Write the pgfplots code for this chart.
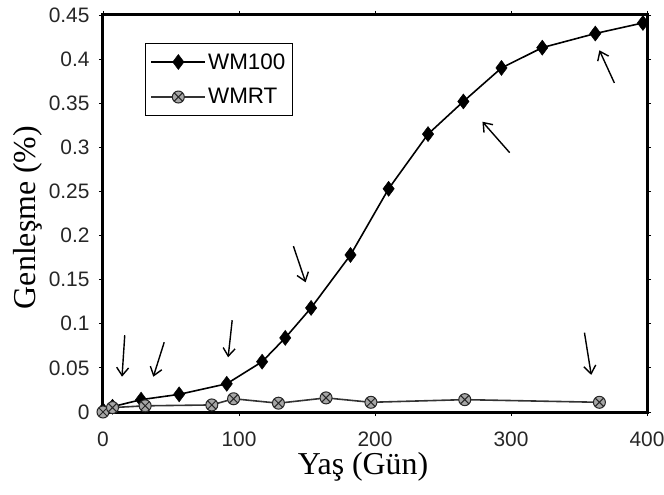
\documentclass[border=0pt]{standalone}
\usepackage{pgfplots}
\pgfplotsset{compat=1.18}
\usetikzlibrary{arrows.meta}
\usepackage{fontspec}
\setmainfont{Liberation Serif}
\setsansfont{Liberation Sans}
\begin{document}
\begin{tikzpicture}
\begin{axis}[
  name=ax,
  scale only axis, width=544bp, height=397bp,
  xmin=0, xmax=400, ymin=0, ymax=0.45,
  xtick={0,100,200,300,400}, ytick={0,0.05,...,0.45},
  yticklabels={0,0.05,0.1,0.15,0.2,0.25,0.3,0.35,0.4,0.45},
  tick align=outside, major tick length=4bp,
  axis line style={line width=3bp},
  tick style={black, line width=0.8bp},
  ticklabel style={font=\sffamily\fontsize{21}{21}\selectfont, text=black!85},
  xticklabel style={yshift=-12bp},
  yticklabel style={xshift=-6bp},
  /pgf/number format/assume math mode=true,
  xlabel={Yaş (Gün)}, ylabel={Genleşme (\%)},
  label style={font=\fontsize{32}{32}\selectfont},
  xlabel style={at={(axis description cs:0.478,-0.1)}, anchor=north, inner sep=0pt},
  ylabel style={at={(axis description cs:-0.138,0.49)}, anchor=center},
  legend style={at={(axis description cs:0.077,0.93)}, anchor=north west,
    draw=black, line width=1.3bp, font=\sffamily\fontsize{22.5}{22.5}\selectfont,
    inner xsep=5bp, inner ysep=8bp, row sep=14bp},
  legend cell align=left,
  legend image code/.code={\draw[mark repeat=2,mark phase=2] plot coordinates {(0bp,0bp) (27bp,0bp) (54bp,0bp)};},
]
\addplot[black, line width=1.6bp, mark=diamond*, mark size=7.5bp, mark options={fill=black, line width=0.5bp}]
  coordinates {(0,0.002) (7,0.006) (28,0.014) (56,0.020) (91,0.032) (117,0.057) (134,0.084) (153,0.118) (182,0.178) (210,0.253) (239,0.315) (265,0.352) (293,0.390) (323,0.413) (362,0.429) (397,0.441)};
\addlegendentry{WM100}
\addplot[black!80, line width=1.6bp, mark=otimes*, mark size=6bp, mark options={fill=black!35, draw=black!85, line width=1bp}]
  coordinates {(0,0) (7,0.005) (31,0.007) (80,0.008) (96,0.015) (129,0.010) (164,0.016) (197,0.011) (266,0.014) (365,0.011)};
\addlegendentry{WMRT}
\draw[line width=1.4bp, -{Straight Barb[length=8bp,width=12bp]}] (axis cs:16,0.087) -- (axis cs:14,0.040);
\draw[line width=1.4bp, -{Straight Barb[length=8bp,width=12bp]}] (axis cs:45,0.079) -- (axis cs:37,0.040);
\draw[line width=1.4bp, -{Straight Barb[length=8bp,width=12bp]}] (axis cs:95,0.104) -- (axis cs:92,0.062);
\draw[line width=1.4bp, -{Straight Barb[length=8bp,width=12bp]}] (axis cs:140,0.188) -- (axis cs:149,0.147);
\draw[line width=1.4bp, -{Straight Barb[length=8bp,width=12bp]}] (axis cs:299,0.294) -- (axis cs:279,0.329);
\draw[line width=1.4bp, -{Straight Barb[length=8bp,width=12bp]}] (axis cs:376,0.373) -- (axis cs:365,0.410);
\draw[line width=1.4bp, -{Straight Barb[length=8bp,width=12bp]}] (axis cs:354,0.090) -- (axis cs:359,0.042);
\end{axis}
\pgfresetboundingbox
\path ([xshift=-103bp,yshift=-83bp]ax.south west) rectangle ([xshift=17bp,yshift=15bp]ax.north east);
\end{tikzpicture}
\end{document}
